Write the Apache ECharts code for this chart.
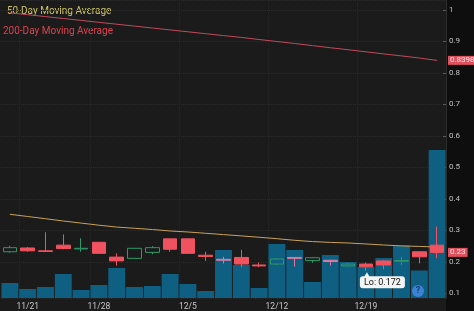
<!DOCTYPE html>
<html>
<head>
<meta charset="utf-8">
<script src="https://cdn.jsdelivr.net/npm/echarts@6/dist/echarts.min.js"></script>
<style>
html,body{margin:0;padding:0;background:#1b1b1b;}
#c{width:474px;height:311px;}
</style>
</head>
<body>
<div id="c"></div>
<script>
// ---- data ----
const dates = ['11/18','11/21','11/22','11/23','11/25','11/28','11/29','11/30','12/1','12/2',
  '12/5','12/6','12/7','12/8','12/9','12/12','12/13','12/14','12/15','12/16',
  '12/19','12/20','12/21','12/22','12/23'];
const tickLabels = ['11/21','11/28','12/5','12/12','12/19'];
const openP  = [0.232,0.244,0.235,0.253,0.241,0.262,0.215,0.211,0.230,0.273,
  0.273,0.221,0.208,0.214,0.190,0.193,0.214,0.204,0.205,0.187,
  0.193,0.203,0.202,0.232,0.253];
const closeP = [0.245,0.235,0.233,0.242,0.243,0.227,0.203,0.243,0.245,0.240,
  0.227,0.217,0.205,0.193,0.187,0.209,0.211,0.213,0.201,0.193,
  0.184,0.190,0.204,0.216,0.230];
const lowP   = [0.229,0.232,0.232,0.240,0.232,0.226,0.188,0.210,0.224,0.232,
  0.226,0.203,0.195,0.183,0.183,0.190,0.185,0.197,0.188,0.185,
  0.172,0.176,0.190,0.195,0.211];
const highP  = [0.251,0.247,0.294,0.287,0.275,0.263,0.227,0.244,0.250,0.274,
  0.274,0.232,0.216,0.238,0.198,0.212,0.215,0.214,0.206,0.196,
  0.198,0.205,0.216,0.233,0.312];
const volume = [150,90,110,240,80,130,300,110,120,240,
  140,70,480,330,100,540,480,160,430,360,
  310,400,525,275,1480];
const ma50  = [0.3510,0.3440,0.3370,0.3297,0.3231,0.3164,0.3104,0.3066,0.3027,0.2980,
  0.2948,0.2907,0.2865,0.2824,0.2780,0.2735,0.2684,0.2643,0.2618,0.2599,
  0.2567,0.2535,0.2506,0.2490,0.2471];
const ma200 = [0.9911,0.9851,0.9790,0.9730,0.9670,0.9609,0.9549,0.9489,0.9428,0.9368,
  0.9308,0.9247,0.9187,0.9130,0.9063,0.9000,0.8936,0.8869,0.8802,0.8739,
  0.8672,0.8605,0.8542,0.8475,0.8398];
const lowNoteDate = '12/19';
const lowNoteValue = 0.172;

// ---- styling ----
const RED = '#f0525f';
const PINK = '#de7aa0';
const GREEN = '#2e9a68';
const pinkIdx = [12,16,18];
const FONT = 'Roboto';

const candleData = dates.map((d,i) => {
  const item = { value: [openP[i], closeP[i], lowP[i], highP[i]] };
  if (pinkIdx.includes(i)) item.itemStyle = { color0: PINK, borderColor0: PINK };
  return item;
});

function priceTag(v) {
  return {
    silent: true, symbol: ['none','none'],
    lineStyle: { color: 'rgba(0,0,0,0)', width: 0, opacity: 1 },
    data: [{ yAxis: v }],
    label: {
      show: true, position: 'end', distance: 2,
      formatter: String(v),
      backgroundColor: '#e0505d', color: '#ffe9ec', opacity: 1,
      fontSize: 8, padding: [1,2,0,2], fontFamily: FONT
    },
    emphasis: { disabled: true }
  };
}

const chart = echarts.init(document.getElementById('c'));
chart.setOption({
  animation: false,
  backgroundColor: '#1b1b1b',
  textStyle: { fontFamily: FONT },
  grid: { left: 1, right: 28, top: 0, bottom: 13 },
  graphic: [
    { type: 'rect', z: -1, shape: { x: 446, y: 0, width: 28, height: 311 }, style: { fill: '#0e0e0e' } },
    { type: 'text', left: 7, top: 6, style: { text: '50-Day Moving Average', fill: '#cfc667', font: '10px ' + FONT } },
    { type: 'text', left: 3, top: 26, style: { text: '200-Day Moving Average', fill: '#d9434f', font: '10px ' + FONT } },
    { type: 'circle', shape: { cx: 418, cy: 291, r: 6 }, style: { fill: '#3b82d6' }, z: 10 },
    { type: 'text', x: 418, y: 291, z: 11, style: { text: '?', fill: '#173d6d', font: 'bold 9px ' + FONT, align: 'center', verticalAlign: 'middle' } }
  ],
  xAxis: {
    type: 'category',
    data: dates,
    boundaryGap: true,
    axisLine: { show: false },
    axisTick: { show: false },
    axisLabel: {
      interval: (idx, val) => tickLabels.includes(val),
      color: '#c8c8c8', fontSize: 8.5, margin: 4
    },
    splitLine: {
      show: true,
      interval: (idx, val) => tickLabels.includes(val),
      lineStyle: { color: '#262626', type: 'dotted' }
    }
  },
  yAxis: [
    {
      type: 'value', position: 'right',
      min: 0.0851, max: 1.0318, splitNumber: 10, scale: true,
      axisLine: { show: true, lineStyle: { color: '#2c2c2c' } },
      axisTick: { show: true, inside: true, length: 3, lineStyle: { color: '#5a5a5a' } },
      axisLabel: { color: '#c0c0c0', fontSize: 8, margin: 3, showMinLabel: false, showMaxLabel: false },
      splitLine: { show: true, lineStyle: { color: '#2a2a2a', type: 'dotted' } }
    },
    {
      type: 'value', min: 0, max: 2980, show: false,
      splitLine: { show: false }
    }
  ],
  series: [
    {
      type: 'bar', yAxisIndex: 1, data: volume,
      barCategoryGap: '5%',
      itemStyle: { color: '#0e5f82' },
      silent: true, z: 1
    },
    {
      type: 'line', data: ma50, yAxisIndex: 0, symbol: 'none',
      lineStyle: { color: '#c9a258', width: 1 }, z: 2
    },
    {
      type: 'line', data: ma200, yAxisIndex: 0, symbol: 'none',
      lineStyle: { color: '#c04a5c', width: 1 }, z: 2,
      clip: false,
      markLine: priceTag(ma200[ma200.length-1])
    },
    {
      type: 'candlestick', data: candleData, yAxisIndex: 0, z: 3,
      barWidth: 14, clip: false,
      itemStyle: {
        color: 'transparent', color0: RED,
        borderColor: GREEN, borderColor0: RED, borderWidth: 1
      },
      markLine: priceTag(closeP[closeP.length-1]),
      markPoint: {
        silent: true,
        symbol: 'triangle', symbolSize: [6,5], symbolOffset: [1,4],
        itemStyle: { color: '#f4f4f4' },
        data: [{ coord: [lowNoteDate, lowNoteValue] }],
        label: {
          show: true,
          formatter: 'Lo: ' + lowNoteValue,
          position: [-4, 4],
          backgroundColor: '#f4f4f4', color: '#111',
          fontSize: 9, padding: [2,4,1,4], borderRadius: 3, fontFamily: FONT
        }
      }
    }
  ]
});
</script>
</body>
</html>
